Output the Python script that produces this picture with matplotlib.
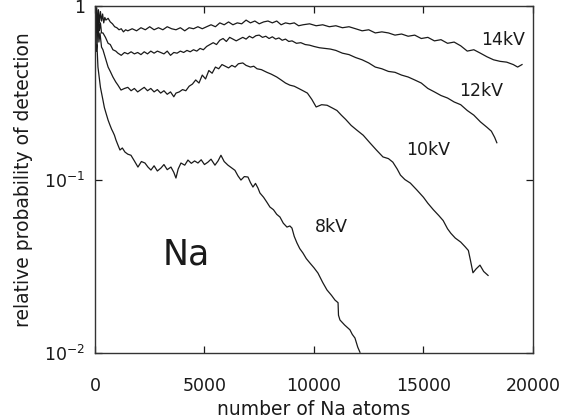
import matplotlib
matplotlib.use("Agg")
import matplotlib.pyplot as plt
from matplotlib.ticker import FixedLocator, NullLocator

# Relative detection probability of Na clusters vs. number of atoms
x_14 = [0, 40, 80, 120, 160, 200, 250, 300, 350, 400, 450, 500, 600, 700, 800, 900,
        1000, 1100, 1200, 1300, 1400, 1500, 1700, 1900, 2100, 2300, 2500, 2700, 2900,
        3100, 3300, 3500, 3700, 3900, 4100, 4300, 4500, 4700, 4900, 5100, 5300, 5500,
        5700, 5900, 6100, 6300, 6500, 6700, 6900, 7100, 7300, 7500, 7700, 7900, 8100,
        8300, 8500, 8700, 8900, 9100, 9300, 9500, 9800, 10100, 10400, 10700, 11000,
        11300, 11600, 11900, 12200, 12500, 12800, 13100, 13400, 13700, 14000, 14300,
        14600, 14900, 15200, 15500, 15800, 16100, 16400, 16700, 17000, 17300, 17600,
        17900, 18200, 18500, 18800, 19100, 19300, 19500]
y_14 = [1.0, 0.80, 0.98, 0.75, 0.95, 0.80, 0.93, 0.82, 0.90, 0.80, 0.86, 0.83, 0.85,
        0.81, 0.79, 0.76, 0.75, 0.73, 0.74, 0.71, 0.73, 0.72, 0.74, 0.72, 0.75, 0.73,
        0.76, 0.73, 0.75, 0.73, 0.76, 0.74, 0.73, 0.75, 0.72, 0.75, 0.74, 0.76, 0.74,
        0.76, 0.78, 0.76, 0.80, 0.78, 0.81, 0.78, 0.80, 0.79, 0.83, 0.80, 0.82, 0.79,
        0.81, 0.82, 0.80, 0.82, 0.78, 0.80, 0.79, 0.80, 0.77, 0.78, 0.79, 0.77, 0.78,
        0.76, 0.77, 0.75, 0.76, 0.74, 0.72, 0.73, 0.70, 0.71, 0.70, 0.68, 0.69, 0.67,
        0.68, 0.65, 0.66, 0.63, 0.64, 0.61, 0.62, 0.59, 0.55, 0.56, 0.535, 0.51, 0.49,
        0.48, 0.475, 0.46, 0.445, 0.46]

x_12 = [0, 40, 80, 120, 150, 200, 250, 300, 365, 480, 600, 700, 820, 950, 1050, 1200,
        1350, 1500, 1650, 1800, 1950, 2100, 2250, 2400, 2550, 2700, 2850, 3000, 3150,
        3300, 3450, 3600, 3750, 3900, 4050, 4200, 4350, 4500, 4650, 4800, 4950, 5100,
        5250, 5400, 5550, 5700, 5850, 6000, 6150, 6300, 6450, 6600, 6750, 6900, 7050,
        7200, 7350, 7500, 7650, 7800, 7950, 8100, 8250, 8400, 8550, 8700, 8850, 9000,
        9200, 9400, 9600, 9800, 10000, 10250, 10500, 10750, 11000, 11300, 11600, 11900,
        12200, 12500, 12800, 13100, 13400, 13700, 14000, 14300, 14600, 14900, 15200,
        15500, 15800, 16100, 16400, 16700, 17000, 17300, 17600, 17900, 18100, 18250,
        18350]
y_12 = [1.0, 0.75, 0.90, 0.70, 0.95, 0.72, 0.80, 0.70, 0.70, 0.66, 0.61, 0.60, 0.56,
        0.55, 0.535, 0.52, 0.54, 0.53, 0.545, 0.53, 0.54, 0.525, 0.545, 0.53, 0.55,
        0.535, 0.55, 0.54, 0.53, 0.55, 0.52, 0.54, 0.535, 0.55, 0.54, 0.555, 0.545,
        0.56, 0.55, 0.57, 0.56, 0.585, 0.60, 0.615, 0.60, 0.635, 0.65, 0.625, 0.66,
        0.645, 0.63, 0.645, 0.66, 0.645, 0.67, 0.655, 0.675, 0.68, 0.66, 0.67, 0.65,
        0.665, 0.645, 0.655, 0.635, 0.645, 0.625, 0.63, 0.61, 0.615, 0.60, 0.595,
        0.585, 0.575, 0.57, 0.565, 0.555, 0.535, 0.525, 0.505, 0.49, 0.47, 0.445,
        0.435, 0.42, 0.415, 0.40, 0.39, 0.375, 0.36, 0.335, 0.32, 0.305, 0.295, 0.28,
        0.27, 0.25, 0.235, 0.215, 0.20, 0.19, 0.175, 0.163]

x_10 = [0, 30, 60, 100, 130, 180, 230, 300, 365, 480, 600, 700, 820, 950, 1050, 1190,
        1350, 1500, 1650, 1800, 1950, 2100, 2250, 2400, 2550, 2700, 2850, 3000, 3150,
        3300, 3450, 3600, 3700, 3850, 4000, 4150, 4300, 4450, 4600, 4750, 4900, 5050,
        5200, 5350, 5500, 5650, 5800, 5950, 6100, 6250, 6400, 6550, 6750, 6900, 7100,
        7250, 7400, 7600, 7850, 8050, 8300, 8500, 8700, 8900, 9100, 9300, 9500, 9700,
        9900, 10100, 10350, 10600, 10850, 11050, 11250, 11450, 11700, 11950, 12250,
        12550, 12850, 13150, 13400, 13600, 13800, 13950, 14150, 14400, 14700, 15000,
        15200, 15450, 15700, 15900, 16100, 16250, 16450, 16700, 16900, 17050, 17150,
        17260, 17400, 17580, 17750, 17950]
y_10 = [1.0, 0.70, 0.92, 0.60, 0.85, 0.62, 0.70, 0.58, 0.56, 0.50, 0.445, 0.42, 0.39,
        0.365, 0.35, 0.328, 0.335, 0.34, 0.325, 0.335, 0.32, 0.33, 0.34, 0.325, 0.335,
        0.32, 0.33, 0.315, 0.325, 0.31, 0.32, 0.30, 0.315, 0.32, 0.33, 0.325, 0.345,
        0.355, 0.375, 0.36, 0.40, 0.38, 0.425, 0.41, 0.445, 0.435, 0.46, 0.45, 0.44,
        0.455, 0.445, 0.465, 0.47, 0.455, 0.445, 0.45, 0.435, 0.43, 0.415, 0.405,
        0.39, 0.375, 0.36, 0.35, 0.345, 0.335, 0.325, 0.315, 0.29, 0.262, 0.27, 0.268,
        0.258, 0.25, 0.235, 0.222, 0.205, 0.193, 0.18, 0.163, 0.148, 0.135, 0.132,
        0.126, 0.115, 0.106, 0.10, 0.0954, 0.087, 0.079, 0.073, 0.067, 0.062, 0.058,
        0.052, 0.049, 0.046, 0.0436, 0.041, 0.039, 0.034, 0.029, 0.0305, 0.0321,
        0.0295, 0.028]

x_8 = [0, 20, 40, 60, 90, 137, 250, 365, 430, 502, 600, 685, 760, 822, 890, 959, 1050,
       1142, 1250, 1370, 1500, 1644, 1800, 1963, 2120, 2283, 2420, 2557, 2700, 2850,
       3014, 3150, 3300, 3470, 3600, 3698, 3800, 3927, 4100, 4246, 4400, 4550, 4703,
       4850, 5000, 5160, 5300, 5479, 5620, 5753, 5900, 6073, 6230, 6392, 6530, 6666,
       6820, 6986, 7100, 7214, 7330, 7443, 7534, 7700, 7850, 7990, 8150, 8300, 8447,
       8600, 8767, 8900, 8995, 9100, 9223, 9350, 9497, 9650, 9817, 10000, 10182, 10400,
       10593, 10800, 10958, 11100, 11120, 11187, 11400, 11643, 11750, 11872, 12000,
       12100]
y_8 = [1.0, 0.65, 0.85, 0.55, 0.60, 0.445, 0.34, 0.287, 0.26, 0.242, 0.22, 0.206,
       0.195, 0.188, 0.18, 0.169, 0.158, 0.148, 0.152, 0.144, 0.14, 0.138, 0.128,
       0.118, 0.127, 0.1245, 0.118, 0.1134, 0.12, 0.112, 0.1165, 0.122, 0.114, 0.118,
       0.11, 0.102, 0.115, 0.1245, 0.121, 0.1295, 0.124, 0.128, 0.1245, 0.13, 0.122,
       0.126, 0.131, 0.121, 0.128, 0.138, 0.127, 0.121, 0.117, 0.113, 0.105, 0.0993,
       0.104, 0.1034, 0.096, 0.0905, 0.095, 0.0893, 0.0836, 0.079, 0.074, 0.0694,
       0.067, 0.063, 0.0608, 0.056, 0.0532, 0.054, 0.0525, 0.047, 0.0431, 0.040,
       0.0377, 0.035, 0.033, 0.031, 0.0289, 0.0255, 0.0231, 0.0215, 0.0202, 0.0195,
       0.0165, 0.0155, 0.0145, 0.0136, 0.0128, 0.0122, 0.0108, 0.0101]

series = [(x_14, y_14), (x_12, y_12), (x_10, y_10), (x_8, y_8)]

curve_labels = ["14kV", "12kV", "10kV", "8kV"]
label_x = [18630, 17630, 15200, 10800]
label_y = [0.64, 0.326, 0.148, 0.0536]

x_ticks = [0, 5000, 10000, 15000, 20000]
x_tick_labels = ["0", "5000", "10000", "15000", "20000"]
y_ticks = [0.01, 0.1, 1.0]
y_tick_labels = [r"$\mathregular{10^{-2}}$", r"$\mathregular{10^{-1}}$", "1"]

fig = plt.figure(figsize=(5.79, 4.18), dpi=100)
ax = fig.add_axes([0.164, 0.1555, 0.7565, 0.830])

ink = "#1a1a1a"
for xs, ys in series:
    ax.plot(xs, ys, color=ink, lw=0.9)

ax.set_yscale("log")
ax.set_xlim(0, 20000)
ax.set_ylim(0.01, 1.0)

ax.xaxis.set_major_locator(FixedLocator(x_ticks))
ax.set_xticklabels(x_tick_labels)
ax.yaxis.set_major_locator(FixedLocator(y_ticks))
ax.set_yticklabels(y_tick_labels)
ax.xaxis.set_minor_locator(NullLocator())
ax.yaxis.set_minor_locator(NullLocator())

ax.tick_params(axis="both", which="major", direction="in", length=5, width=0.9,
               color=ink, top=True, right=True, labelsize=12.5, labelcolor=ink)
ax.tick_params(axis="x", pad=17)
ax.tick_params(axis="y", pad=7)

for sp in ax.spines.values():
    sp.set_color("#333333")
    sp.set_linewidth(1.0)

ax.set_xlabel("number of Na atoms", fontsize=13.5, color=ink, labelpad=4)
ax.set_ylabel("relative probability of detection", fontsize=13.5, color=ink,
              labelpad=8)

for txt, lx, ly in zip(curve_labels, label_x, label_y):
    ax.text(lx, ly, txt, fontsize=12.5, color=ink, ha="center", va="center")

ax.text(4150, 0.037, "Na", fontsize=25, color=ink, ha="center", va="center")

fig.savefig("out.png", dpi=100)
